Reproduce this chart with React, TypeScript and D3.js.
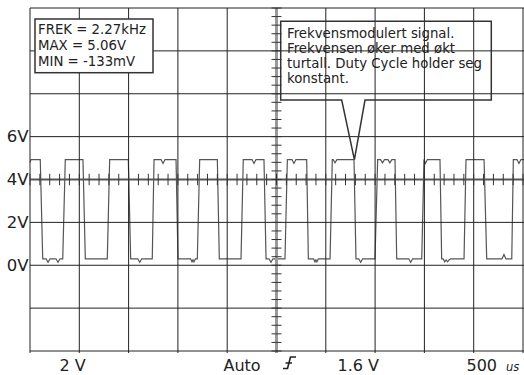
import React from 'react';
import * as d3 from 'd3';

// y tick labels (volts)
const voltTicks = [0, 2, 4, 6];
const voltLabels = ['0V', '2V', '4V', '6V'];

// status line
const statusLabels = ['2 V', 'Auto', '1.6 V', '500'];
const timeUnit = 'us';

// measurement readout
const infoLines = ['FREK = 2.27kHz', 'MAX = 5.06V', 'MIN = -133mV'];

// annotation
const noteLines = [
  'Frekvensmodulert signal.',
  'Frekvensen øker med økt',
  'turtall. Duty Cycle holder seg',
  'konstant.',
];
const noteTarget: [number, number] = [3290, 4.93];

// signal vertices: [time µs, volts]
const signal: [number, number][] = [
  [0, 4.8], [10, 4.93],
  [104, 4.93], [129, 0.3],
  [163, 0.3], [183, 0.14], [203, 0.3], [264, 0.3], [284, 0.14], [304, 0.3],
  [332, 0.3], [358, 4.93],
  [537, 4.93], [561, 0.3],
  [784, 0.3], [808, 4.93],
  [997, 4.93], [1021, 0.3],
  [1093, 0.3], [1113, 0.14], [1133, 0.3],
  [1240, 0.3], [1258, 4.93],
  [1329, 4.93], [1349, 4.75], [1369, 4.93],
  [1481, 4.93], [1501, 0.3],
  [1628, 0.3], [1643, 0.16], [1653, 0.25], [1663, 0.16], [1678, 0.3],
  [1697, 0.3], [1721, 4.93],
  [1900, 4.93], [1920, 0.3],
  [2140, 0.3], [2163, 4.93],
  [2252, 4.93], [2272, 4.75], [2292, 4.93],
  [2373, 4.93], [2394, 0.3],
  [2424, 0.3], [2444, 0.14], [2464, 0.3],
  [2586, 0.3], [2610, 4.93],
  [2657, 4.93], [2677, 4.75], [2697, 4.93],
  [2806, 4.93], [2823, 0.3],
  [2875, 0.3], [2890, 0.16], [2900, 0.25], [2910, 0.16], [2925, 0.3],
  [3043, 0.3], [3066, 4.93],
  [3075, 4.93], [3093, 4.78], [3113, 4.93],
  [3286, 4.93], [3306, 0.3],
  [3334, 0.3], [3354, 0.14], [3374, 0.3],
  [3499, 0.3], [3526, 4.93],
  [3555, 4.93], [3575, 4.78], [3595, 4.93], [3630, 4.93], [3650, 4.78], [3670, 4.93],
  [3702, 4.93], [3719, 0.3],
  [3841, 0.3], [3861, 0.14], [3881, 0.3],
  [3973, 0.3], [3996, 4.93],
  [4010, 4.75], [4030, 4.93],
  [4158, 4.93], [4175, 0.3],
  [4190, 0.3], [4205, 0.16], [4220, 0.25], [4235, 0.16], [4250, 0.25], [4265, 0.3],
  [4402, 0.3], [4422, 4.93],
  [4605, 4.93], [4632, 0.3],
  [4787, 0.3], [4807, 0.5], [4827, 0.3],
  [4886, 0.3], [4902, 4.93],
  [4939, 4.93], [4959, 4.75], [4979, 4.93],
  [5015, 4.93],
];

const W = 524;
const H = 375;
const left = 30;
const divW = 49.3;
const top = 8;
const bottom = 351;

const x = d3.scaleLinear().domain([0, 5000]).range([left, left + 10 * divW]);
const y = d3.scaleLinear().domain([-4, 12]).range([bottom, top]);

const FONT = 'DejaVu Sans, Verdana, sans-serif';

export default function App() {
  const vGrid = d3.range(0, 5001, 500);
  const hGrid = d3.range(-4, 12.01, 2);
  const xMinor = d3.range(0, 5001, 100);
  const yMinor = d3.range(-4, 12.01, 0.4);
  const cx = x(2500);
  const cy = y(4);
  const line = d3.line<[number, number]>().x(d => x(d[0])).y(d => y(d[1]));

  // annotation geometry
  const bx0 = 280.7, bx1 = 491.3, by0 = 21.3, by1 = 100;
  const tipX = x(noteTarget[0]);
  const tipY = y(noteTarget[1]);
  const gapL = 341.7, gapR = 365;
  const calloutPath = `M${gapL},${by1} L${bx0},${by1} L${bx0},${by0} L${bx1},${by0} L${bx1},${by1} L${gapR},${by1} L${tipX},${tipY} Z`;

  const statusY = 370.8;

  return (
    <svg width={W} height={H} style={{ position: 'absolute', left: 0, top: 0, background: '#fff' }}>
      <rect x={0} y={0} width={W} height={H} fill="#fff" />
      {/* signal */}
      <path d={line(signal) ?? ''} fill="none" stroke="#555" strokeWidth={1.2} />
      {/* grid */}
      {vGrid.map(t => (
        <line key={'v' + t} x1={x(t)} x2={x(t)} y1={top} y2={bottom + 2}
          stroke={t === 2500 ? '#999' : '#222'} strokeWidth={t === 2500 ? 3 : 1} />
      ))}
      {hGrid.map(v => (
        <line key={'h' + v} x1={left} x2={W} y1={y(v)} y2={y(v)}
          stroke={v === 4 ? '#555' : '#222'} strokeWidth={v === 4 ? 1.8 : 1} />
      ))}
      {/* minor ticks */}
      {xMinor.map(t => (
        <line key={'xm' + t} x1={x(t)} x2={x(t)} y1={cy - 5.7} y2={cy + 5.7} stroke="#333" strokeWidth={1} />
      ))}
      {yMinor.map(v => (
        <line key={'ym' + v} x1={cx - 5} x2={cx + 5} y1={y(v)} y2={y(v)} stroke="#333" strokeWidth={1} />
      ))}
      {/* y labels */}
      {voltTicks.map((v, i) => (
        <text key={'yl' + v} x={28.5} y={y(v) + 5.8} textAnchor="end" fontFamily={FONT} fontSize={16.5} fill="#222">
          {voltLabels[i]}
        </text>
      ))}
      {/* status line */}
      <g fontFamily={FONT} fontSize={16} fill="#222">
        <text x={59.5} y={statusY}>{statusLabels[0]}</text>
        <text x={223.5} y={statusY}>{statusLabels[1]}</text>
        <text x={337.5} y={statusY}>{statusLabels[2]}</text>
        <text x={466.5} y={statusY}>{statusLabels[3]}</text>
        <text x={506} y={statusY} fontSize={11.5} fontStyle="italic">{timeUnit}</text>
      </g>
      {/* trigger symbol */}
      <path d="M283,368.5 L287.5,368.5 L290.5,357 L296,357 M285.5,363 L292,363" fill="none" stroke="#222" strokeWidth={1.6} />
      {/* info box */}
      <rect x={35} y={19} width={118} height={53.7} fill="#fff" stroke="#333" strokeWidth={1.5} />
      {infoLines.map((s, i) => (
        <text key={'il' + i} x={38} y={34 + i * 16} fontFamily={FONT} fontSize={13.3} fill="#222">{s}</text>
      ))}
      {/* callout */}
      <path d={calloutPath} fill="none" stroke="#333" strokeWidth={1.5} strokeLinejoin="miter" />
      {noteLines.map((s, i) => (
        <text key={'nl' + i} x={287} y={37.5 + i * 15.3} fontFamily={FONT} fontSize={13.3} fill="#222">{s}</text>
      ))}
    </svg>
  );
}
